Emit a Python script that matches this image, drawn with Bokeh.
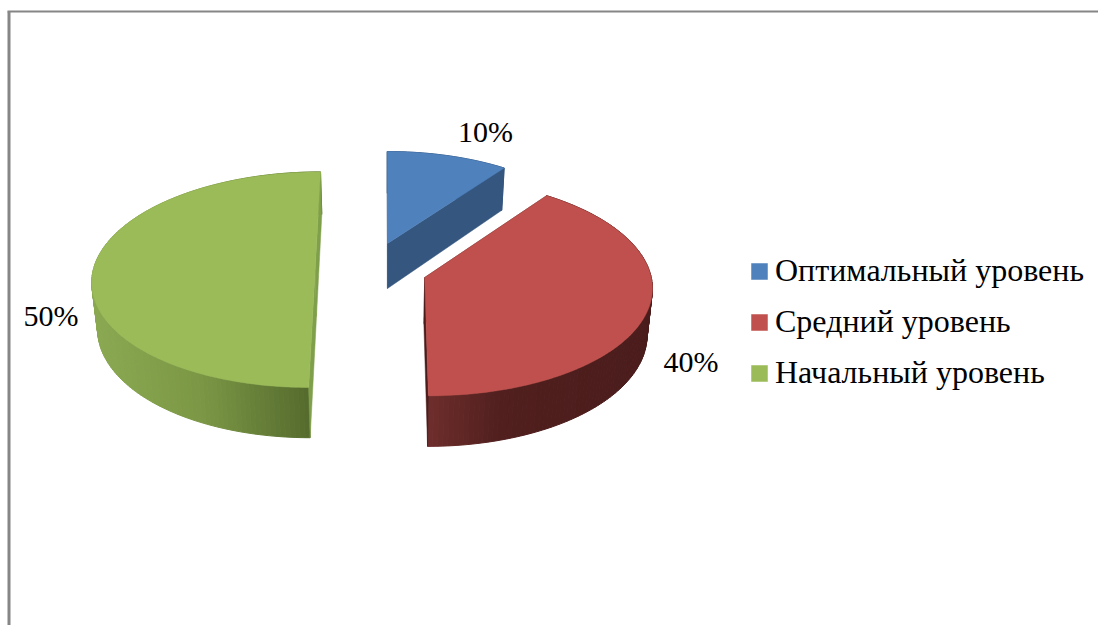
import math
from bokeh.core.properties import value
from bokeh.embed import file_html
from bokeh.models import ColumnDataSource, Legend, LegendItem, Range1d
from bokeh.plotting import figure
from bokeh.resources import INLINE

categories = ["Оптимальный уровень", "Средний уровень", "Начальный уровень"]
values = [10, 40, 50]
top_colors = ["#4f81bd", "#c0504d", "#9bbb59"]

# layout of the perspective pie (not data)
VX, Y0, AX, BY, K, DEPTH, SHRINK = 384, 270, 222, 107, 0.085, 46, 0.98
apex = [(0.0138, 0.258), (0.18, -0.065), (-0.3126, 0.0)]
radius = [(0.975, 0.97), (1.015, 1.0), (1.0, 1.0)]
wall_stops = [
    [(380, "#34567f"), (510, "#34567f")],
    [(428, "#6e2e2c"), (500, "#501f1e"), (655, "#4a1c1b")],
    [(95, "#8aa851"), (200, "#7b9745"), (310, "#546a2d")],
]
cut_colors = ["#34567f", "#4a1c1b", "#7f9f4a"]
label_pos = [(485, 130.5), (690.5, 361), (50.5, 314.5)]
FONT = "Liberation Serif"


def project(X, Y, lower=False):
    w = 1 + K * Y
    sx = X * AX / w
    sy = Y0 - BY * Y / w
    if lower:
        sx *= SHRINK
        sy += DEPTH / w
    return VX + sx, sy


def rim(i, theta):
    ax, ay = apex[i]
    rx, ry = radius[i]
    return ax + rx * math.sin(theta), ay + ry * math.cos(theta)


def mix(stops, x):
    def rgb(h):
        return [int(h[j:j + 2], 16) for j in (1, 3, 5)]
    if x <= stops[0][0]:
        return stops[0][1]
    for (x0, c0), (x1, c1) in zip(stops, stops[1:]):
        if x <= x1:
            t = (x - x0) / (x1 - x0)
            m = [round(a + (b - a) * t) for a, b in zip(rgb(c0), rgb(c1))]
            return "#%02x%02x%02x" % tuple(m)
    return stops[-1][1]


p = figure(width=1098, height=625, x_range=Range1d(0, 1098), y_range=Range1d(625, 0),
           output_backend="svg", toolbar_location=None, min_border=0)
p.axis.visible = False
p.grid.visible = False
p.outline_line_color = None
p.background_fill_color = "white"
p.border_fill_color = "white"

# chart frame
p.segment(x0=[8.5, 7], y0=[11, 11], x1=[8.5, 1098], y1=[625, 11], line_color="#868686", line_width=[3, 2])

total = sum(values)
tops = []
cum = 0
for i, v in enumerate(values):
    a0 = cum / total * 2 * math.pi
    cum += v
    a1 = cum / total * 2 * math.pi
    n = max(6, int(v * 3))
    thetas = [a0 + (a1 - a0) * j / n for j in range(n + 1)]
    # outer wall strips
    xs, ys, cs = [], [], []
    for t0, t1 in zip(thetas, thetas[1:]):
        P0, P1 = rim(i, t0), rim(i, t1)
        a = project(*P0); b = project(*P1)
        c = project(*P1, lower=True); d = project(*P0, lower=True)
        xs.append([a[0], b[0], c[0], d[0]])
        ys.append([a[1], b[1], c[1], d[1]])
        cs.append(mix(wall_stops[i], (a[0] + b[0]) / 2))
    p.patches(xs, ys, fill_color=cs, line_color=cs, line_width=1)
    # straight cut faces
    for t in (a0, a1):
        P = rim(i, t)
        a = project(*apex[i]); b = project(*P)
        c = project(*P, lower=True); d = project(*apex[i], lower=True)
        p.patch([a[0], b[0], c[0], d[0]], [a[1], b[1], c[1], d[1]],
                fill_color=cut_colors[i], line_color=cut_colors[i], line_width=0.5)
    # top face
    pts = [project(*apex[i])] + [project(*rim(i, t)) for t in thetas]
    src = ColumnDataSource(dict(xs=[[q[0] for q in pts]], ys=[[q[1] for q in pts]]))
    tops.append(p.patches("xs", "ys", source=src, fill_color=top_colors[i], line_color=top_colors[i], line_width=0.5))

p.text(x=[q[0] for q in label_pos], y=[q[1] for q in label_pos], text=[f"{v}%" for v in values],
       text_font=value(FONT), text_font_size="30px", text_color="black",
       text_align="center", text_baseline="middle")

legend = Legend(items=[LegendItem(label=c, renderers=[r]) for c, r in zip(categories, tops)],
                location=(749, 234), orientation="vertical", margin=0, padding=0,
                background_fill_alpha=0, border_line_color=None,
                glyph_width=20, glyph_height=20, label_standoff=6, spacing=14, label_height=33,
                label_text_font=FONT, label_text_font_size="32px", label_text_color="black")
p.add_layout(legend, "center")

open("out.html", "w").write(file_html(p, INLINE))
